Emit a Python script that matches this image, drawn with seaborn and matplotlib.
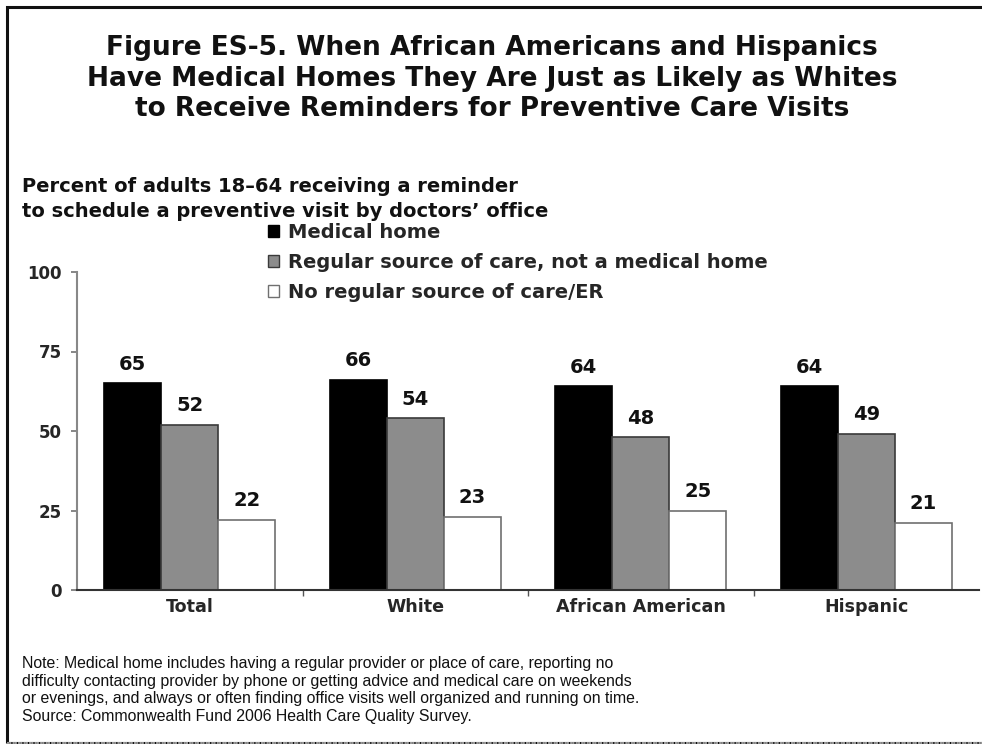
import matplotlib
matplotlib.use("Agg")
import matplotlib.pyplot as plt
import seaborn as sns
import pandas as pd
from matplotlib.patches import Rectangle, Patch

categories = ["Total", "White", "African American", "Hispanic"]
series_names = ["Medical home", "Regular source of care, not a medical home",
                "No regular source of care/ER"]
medical_home = [65, 66, 64, 64]
regular_source = [52, 54, 48, 49]
no_regular = [22, 23, 25, 21]
y_ticks = [0, 25, 50, 75, 100]

title = ("Figure ES-5. When African Americans and Hispanics\n"
         "Have Medical Homes They Are Just as Likely as Whites\n"
         "to Receive Reminders for Preventive Care Visits")
subtitle = ("Percent of adults 18\u201364 receiving a reminder\n"
            "to schedule a preventive visit by doctors\u2019 office")
note = ("Note: Medical home includes having a regular provider or place of care, reporting no\n"
        "difficulty contacting provider by phone or getting advice and medical care on weekends\n"
        "or evenings, and always or often finding office visits well organized and running on time.\n"
        "Source: Commonwealth Fund 2006 Health Care Quality Survey.")

rows = []
for s, vals in zip(series_names, [medical_home, regular_source, no_regular]):
    for c, v in zip(categories, vals):
        rows.append({"Group": c, "Series": s, "Value": v})
df = pd.DataFrame(rows)

sns.set_theme(style="white")
plt.rcParams["font.family"] = ["DejaVu Sans"]

W, H = 982, 744
fig = plt.figure(figsize=(W / 100, H / 100), dpi=100)
ax = fig.add_axes([77 / W, 1 - 590 / H, (979 - 77) / W, (590 - 272) / H])

fills = ["#000000", "#8c8c8c", "#ffffff"]
edges = ["#000000", "#3a3a3a", "#707070"]
sns.barplot(data=df, x="Group", y="Value", hue="Series", order=categories,
            hue_order=series_names, palette=fills, width=0.76, gap=0,
            legend=False, ax=ax, saturation=1)

for cont, ec in zip(ax.containers, edges):
    for p in cont:
        p.set_edgecolor(ec)
        p.set_linewidth(1.2)
    ax.bar_label(cont, fmt="%d", padding=7, fontsize=14, fontweight="bold",
                 color="#111111")

ax.set_xlim(-0.5, 3.5)
ax.set_ylim(0, 100)
ax.set_yticks(y_ticks)
ax.set_yticklabels([str(t) for t in y_ticks], fontsize=12, fontweight="bold")
ax.set_xticks(range(len(categories)))
ax.set_xticklabels(categories, fontsize=12.6, fontweight="bold")
ax.set_xlabel("")
ax.set_ylabel("")
ax.tick_params(axis="x", length=0, pad=6)
ax.set_xticks([0.5, 1.5, 2.5], minor=True)
ax.tick_params(axis="x", which="minor", length=4, direction="out",
               color="#555555", bottom=True)
ax.tick_params(axis="y", length=4, direction="out", color="#777777",
               left=True, pad=7)
for side in ["top", "right"]:
    ax.spines[side].set_visible(False)
ax.spines["left"].set_color("#888888")
ax.spines["left"].set_linewidth(1.5)
ax.spines["bottom"].set_color("#333333")
ax.spines["bottom"].set_linewidth(1.5)
ax.grid(False)

# legend
handles = [Patch(facecolor=f, edgecolor=e, linewidth=1) for f, e in zip(fills, edges)]
fig.legend(handles, series_names, loc="upper left",
           bbox_to_anchor=(260 / W, 1 - 215 / H), frameon=False,
           prop={"weight": "bold", "size": 14}, handlelength=0.6,
           handleheight=0.6, handletextpad=0.45, labelspacing=0.57,
           borderaxespad=0)

fig.text(492 / W, 1 - 35 / H, title, ha="center", va="top", fontsize=19,
         fontweight="bold", linespacing=1.23, color="#111111")
fig.text(22 / W, 1 - 177 / H, subtitle, ha="left", va="top", fontsize=14,
         fontweight="bold", linespacing=1.42, color="#111111")
fig.text(22 / W, 1 - 656 / H, note, ha="left", va="top", fontsize=11.4,
         family=["Liberation Sans", "DejaVu Sans"], linespacing=1.21,
         color="#111111")

# frame around the figure
fig.add_artist(Rectangle((7 / W, 1 / H), 1.2, 1 - 8 / H, transform=fig.transFigure,
                         fill=False, edgecolor="#111111", linewidth=2.2))
fig.add_artist(Rectangle((7 / W, 1 / H), 1.2, 0, transform=fig.transFigure,
                         fill=False, edgecolor="#999999", linewidth=1.5,
                         linestyle=":"))

fig.savefig("out.png", dpi=100, facecolor="white")
